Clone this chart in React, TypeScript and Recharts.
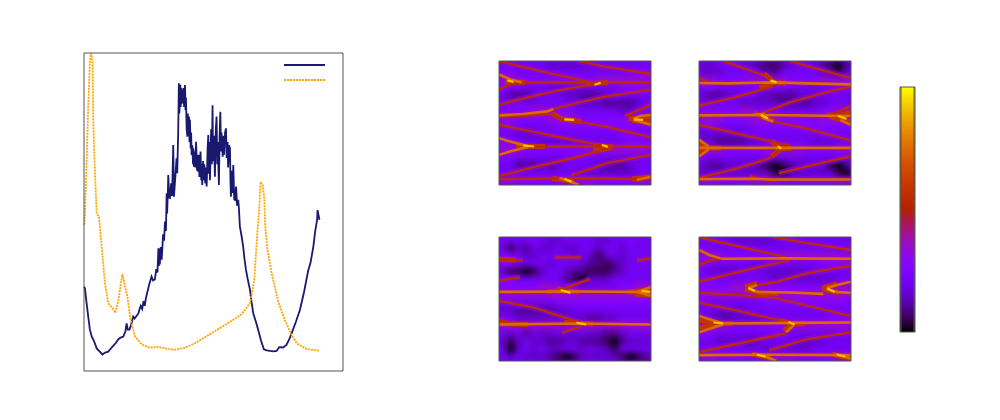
import React from 'react';
import { ComposedChart, Line, Scatter, Bar, XAxis, YAxis, Legend } from 'recharts';

// left panel: [x, y]
const navyPoints = [
  [0, 2.65], [0.04, 2.6], [0.1, 2.2], [0.18, 1.71], [0.25, 1.3], [0.33, 1.08], [0.42, 0.95], [0.54, 0.71], [0.66, 0.62], [0.78, 0.52],
  [0.9, 0.58], [1.03, 0.61], [1.13, 0.7], [1.24, 0.79], [1.35, 0.88], [1.46, 1.0], [1.56, 1.05], [1.67, 1.08], [1.76, 1.25], [1.81, 1.5],
  [1.86, 1.3], [1.93, 1.3], [2.0, 1.45], [2.09, 1.71], [2.15, 1.65], [2.31, 1.81], [2.36, 1.95], [2.41, 2.05], [2.47, 1.95], [2.53, 2.2],
  [2.58, 2.05], [2.63, 2.29], [2.68, 2.45], [2.73, 2.6], [2.78, 2.75], [2.87, 2.97], [2.93, 2.85], [3.01, 2.88], [3.07, 3.2], [3.12, 3.1],
  [3.16, 3.86], [3.18, 3.3], [3.2, 3.85], [3.22, 3.35], [3.26, 3.9], [3.3, 3.5], [3.36, 4.3], [3.4, 4.1], [3.44, 4.7], [3.48, 4.4],
  [3.51, 5.59], [3.53, 4.95], [3.56, 5.6], [3.58, 6.16], [3.62, 5.45], [3.65, 5.44], [3.7, 5.9], [3.74, 5.5], [3.79, 7.11], [3.82, 5.48],
  [3.88, 6.1], [3.93, 6.69], [3.96, 6.22], [4.0, 7.5], [4.03, 9.05], [4.05, 8.1], [4.09, 9.0], [4.11, 8.3], [4.12, 8.9], [4.14, 8.4],
  [4.17, 8.84], [4.2, 8.42], [4.22, 8.9], [4.25, 8.3], [4.29, 8.99], [4.31, 8.2], [4.33, 8.6], [4.36, 7.6], [4.39, 7.37], [4.41, 8.1],
  [4.43, 7.4], [4.46, 8.0], [4.48, 7.2], [4.5, 7.9], [4.53, 7.0], [4.55, 7.5], [4.57, 6.79], [4.6, 7.1], [4.63, 6.5], [4.65, 7.0],
  [4.67, 6.42], [4.7, 6.9], [4.73, 6.4], [4.76, 7.21], [4.8, 6.3], [4.83, 6.8], [4.85, 6.27], [4.88, 6.8], [4.9, 6.1], [4.95, 6.9],
  [4.98, 6.0], [5.0, 6.5], [5.02, 5.85], [5.06, 6.6], [5.08, 6.0], [5.11, 6.5], [5.15, 5.9], [5.18, 6.4], [5.21, 5.8], [5.25, 7.0],
  [5.28, 7.42], [5.3, 6.2], [5.32, 7.2], [5.35, 6.0], [5.4, 7.6], [5.43, 6.5], [5.46, 8.36], [5.48, 6.6], [5.52, 7.4], [5.56, 6.11],
  [5.6, 7.6], [5.63, 8.0], [5.66, 6.5], [5.68, 7.2], [5.73, 5.85], [5.76, 7.4], [5.79, 8.15], [5.82, 6.9], [5.84, 7.5], [5.89, 6.74],
  [5.92, 7.4], [5.95, 6.8], [5.99, 7.5], [6.03, 7.63], [6.06, 6.7], [6.1, 7.2], [6.12, 6.4], [6.16, 7.1], [6.2, 7.0], [6.22, 6.0],
  [6.24, 5.48], [6.28, 6.3], [6.31, 5.6], [6.34, 6.48], [6.38, 5.4], [6.41, 5.38], [6.46, 5.8], [6.5, 5.2], [6.55, 5.38], [6.58, 5.11],
  [6.62, 4.54], [6.68, 4.3], [6.76, 3.91], [6.82, 3.5], [6.88, 3.18], [6.95, 2.9], [7.05, 2.55], [7.12, 2.15], [7.19, 1.81], [7.3, 1.55],
  [7.4, 1.29], [7.52, 0.95], [7.64, 0.68], [7.76, 0.65], [7.9, 0.63], [8.05, 0.62], [8.18, 0.63], [8.29, 0.75], [8.45, 0.74], [8.6, 0.82],
  [8.72, 1.0], [8.82, 1.19], [9.0, 1.55], [9.17, 1.92], [9.35, 2.5], [9.52, 3.15], [9.62, 3.4], [9.74, 3.91], [9.82, 4.4], [9.9, 4.75],
  [9.92, 5.06], [10, 4.75],
];
const orangePoints = [
  [0.01, 4.6], [0.04, 4.9], [0.11, 6.54], [0.18, 8.31], [0.25, 9.69], [0.3, 10.04], [0.37, 9.67], [0.39, 8.0], [0.44, 6.74], [0.5, 5.6],
  [0.54, 4.97], [0.64, 4.81], [0.68, 4.5], [0.75, 3.91], [0.89, 2.76], [1.03, 2.13], [1.22, 1.97], [1.33, 1.83], [1.46, 2.23], [1.63, 3.05],
  [1.84, 2.34], [1.98, 1.6], [2.17, 1.08], [2.45, 0.84], [2.8, 0.73], [3.16, 0.76], [3.51, 0.7], [3.86, 0.67], [4.29, 0.73], [4.78, 0.9],
  [5.35, 1.16], [6.06, 1.48], [6.69, 1.78], [7.05, 2.13], [7.23, 2.86], [7.36, 4.33], [7.44, 5.06], [7.5, 5.95], [7.59, 5.85], [7.66, 5.38],
  [7.69, 4.64], [7.78, 3.86], [7.97, 3.07], [8.25, 2.18], [8.53, 1.6], [8.82, 1.13], [9.03, 0.87], [9.46, 0.69], [10, 0.64],
];
const lineXTicks = [1, 2, 3, 4, 5, 6, 7, 8, 9, 10];
const lineYTicks = [1, 2, 3, 4, 5, 6, 7, 8, 9];

// heat maps: rows from the top, one digit per coarse cell (index into heatColors)
const heatColors = ['#000000', '#39004f', '#510096', '#6301ce', '#7202f2', '#8004ff', '#970bce', '#ab174f', '#b42000'];
const heatA = [
  '4444443333334444444', '5544444444444444455', '6665555555556666666', '5544443333444445556',
  '4222344433222344444', '4454444444333222234', '5555666554444443344', '6655556666555555666',
  '5544444555555555555', '4433344444444445544', '5544433334444444555', '6665555555566666666',
  '5544444445544444444', '4422232344443222344', '4444444444333333344', '6655555566665555566',
];
const heatB = [
  '3344433211234432102', '3334444332444443213', '6655556666655556666', '5544444445544444445',
  '3223344332223334444', '4444433333222233444', '5555566555444445566', '6665556666555556666',
  '5544444555555555555', '3333334444444445544', '3322223344444433344', '6665555566666555566',
  '5444444455444444444', '3223333210123333102', '3333333331023333310', '6655556666555555566',
];
const heatC = [
  '4444543344443344544', '4132433433443443444', '5543344443431343444', '5544443444322123444',
  '3110134432211123444', '5544444421033344444', '5555566555444445566', '6666666666666666666',
  '4444444555555555555', '3322222334444444444', '4433333333322334444', '6666666666666666666',
  '4342433433433223444', '3134332233222102333', '4034343344343314444', '4343332101333331012',
];
const heatD = [
  '4444333333444444444', '5444444444444444444', '6665555555666666666', '5544443344444445556',
  '4333344433333344444', '5544444443333333344', '5555666555555555666', '6666666666666666666',
  '5444444455555555555', '4433334444444444444', '4332333344444444555', '6666555555566666666',
  '5544444445544444444', '4433332344443333444', '4444444433333344444', '6655555566665555566',
];

// ridges in each map: level then [x, y] points (f = wide flare round a cusp)
const ridgeColors = { f: '#c23400', r: '#bd2c00', o: '#dc6a00', y: '#f5c400' };
const ridgeWidths = { f: 5, r: 2.1, o: 2.6, y: 2.2 };
const ridgeOrder = ['f', 'r', 'o', 'y'];
const ridgesA: [string, number[][]][] = [
  ['f', [[0.25, 5.22], [1.1, 5.2]]], ['f', [[3.6, 5.12], [4.5, 5.2]]], ['f', [[2.2, 3.62], [2.6, 3.35], [3.4, 3.22]]],
  ['f', [[5.35, 3.35], [5.9, 3.42], [6.28, 3.45]]], ['f', [[5.5, 3.28], [6.28, 3.15]]], ['f', [[0.7, 1.95], [1.9, 1.95]]],
  ['f', [[3.9, 2.02], [4.7, 1.93]]], ['f', [[3.9, 1.72], [4.6, 1.88]]], ['f', [[2.2, 0.34], [3.1, 0.18]]], ['f', [[5.5, 0.3], [6.28, 0.42]]],
  ['r', [[0, 6.28], [1.42, 5.85], [2.8, 5.47], [3.76, 5.22], [4.04, 5.17]]],
  ['r', [[3.28, 6.28], [4.45, 5.98], [6.28, 5.63]]],
  ['o', [[0, 5.6], [0.45, 5.36], [0.94, 5.2]]],
  ['r', [[0, 4.83], [0.45, 5.1], [0.94, 5.2]]],
  ['r', [[0.94, 5.2], [3.0, 5.2], [6.28, 5.2]]],
  ['r', [[0, 4.07], [1.28, 4.47], [2.53, 4.81], [3.76, 5.08], [4.04, 5.17]]],
  ['o', [[0, 3.53], [1.0, 3.6], [2.0, 3.73], [2.25, 3.85]]],
  ['r', [[2.25, 3.85], [3.2, 4.15], [4.45, 4.5], [6.28, 4.83]]],
  ['r', [[0, 3.48], [1.0, 3.5], [2.2, 3.6], [2.6, 3.3]]],
  ['r', [[2.6, 3.3], [3.0, 3.28], [4.45, 2.95], [6.28, 2.42]]],
  ['r', [[0, 3.05], [1.42, 2.7], [3.0, 2.3], [4.45, 1.95]]],
  ['o', [[5.55, 3.35], [5.83, 3.5], [6.28, 3.55]]],
  ['o', [[5.55, 3.3], [5.83, 3.2], [6.28, 3.05]]],
  ['r', [[5.2, 3.5], [5.7, 3.75], [6.28, 4.07]]],
  ['o', [[0, 2.37], [0.45, 2.2], [1.2, 1.97]]],
  ['o', [[0, 1.53], [0.45, 1.7], [1.2, 1.93]]],
  ['r', [[1.2, 1.95], [4.45, 1.95], [6.28, 1.95]]],
  ['r', [[0, 0.45], [1.42, 0.9], [3.0, 1.35], [4.2, 1.75], [4.5, 1.9]]],
  ['r', [[3.0, 0.5], [4.45, 1.1], [6.28, 1.53]]],
  ['r', [[0, 0.29], [3.0, 0.34], [6.28, 0.3]]],
  ['o', [[2.5, 0.35], [2.9, 0.2], [3.3, 0]]],
  ['o', [[5.7, 0.25], [6.28, 0.42]]],
  ['y', [[0.35, 5.3], [0.6, 5.22]]],
  ['y', [[3.95, 5.08], [4.2, 5.18]]],
  ['y', [[2.7, 3.33], [3.1, 3.3]]],
  ['y', [[5.6, 3.33], [5.95, 3.3]]],
  ['y', [[1.0, 2.0], [1.45, 1.95]]],
  ['y', [[4.25, 2.03], [4.5, 1.93]]],
  ['y', [[2.7, 0.32], [3.0, 0.17]]],
];
const ridgesB: [string, number[][]][] = [
  ['f', [[2.7, 5.65], [3.1, 5.2], [3.6, 5.15]]], ['f', [[2.5, 4.95], [3.1, 5.2]]], ['f', [[2.3, 3.65], [2.7, 3.4], [3.1, 3.25]]],
  ['f', [[5.3, 3.55], [5.9, 3.55], [6.28, 3.7]]], ['f', [[5.4, 3.45], [6.28, 3.2]]], ['f', [[0, 2.1], [0.4, 1.88], [0.9, 1.88]]],
  ['f', [[0, 1.65], [0.4, 1.88]]], ['f', [[3.0, 2.2], [3.4, 1.85], [3.8, 1.85]]], ['f', [[3.0, 1.45], [3.4, 1.85]]],
  ['r', [[1.0, 6.28], [2.8, 5.51], [3.07, 5.22]]],
  ['r', [[3.76, 6.28], [5.0, 5.85], [6.28, 5.42]]],
  ['r', [[0, 5.42], [0.4, 5.2]]],
  ['o', [[0, 5.17], [1.2, 5.15], [3.07, 5.2], [4.5, 5.15], [6.28, 5.1]]],
  ['r', [[0, 4.02], [1.5, 4.45], [3.07, 5.0]]],
  ['r', [[2.59, 3.64], [3.8, 4.2], [5.14, 4.66], [6.28, 5.0]]],
  ['o', [[0, 3.53], [2.6, 3.55], [6.28, 3.5]]],
  ['o', [[2.2, 3.55], [2.66, 3.6], [2.66, 3.4], [3.07, 3.22]]],
  ['r', [[3.07, 3.22], [4.5, 2.85], [6.28, 2.25]]],
  ['r', [[5.4, 3.55], [5.83, 3.75], [6.28, 4.0]]],
  ['o', [[5.83, 3.3], [6.28, 3.05]]],
  ['r', [[0, 3.05], [1.8, 2.55], [3.35, 2.1], [3.76, 2.03]]],
  ['o', [[0, 1.88], [3.35, 1.88], [6.28, 1.88]]],
  ['o', [[0, 2.3], [0.4, 1.95]]],
  ['o', [[0, 1.45], [0.4, 1.8]]],
  ['r', [[0, 0.35], [1.6, 0.85], [2.9, 1.35], [3.35, 1.8]]],
  ['r', [[3.3, 0.6], [5, 1.1], [6.28, 1.45]]],
  ['o', [[0, 0.3], [2.2, 0.32], [3, 0.28], [6.28, 0.28]]],
  ['r', [[2.1, 0.45], [2.6, 0.3], [3.2, 0.2]]],
  ['y', [[2.95, 5.3], [3.2, 5.2]]],
  ['y', [[2.55, 3.55], [2.85, 3.38]]],
  ['y', [[5.75, 3.5], [6.1, 3.35]]],
  ['y', [[3.25, 1.95], [3.4, 1.85]]],
];
const ridgesC: [string, number[][]][] = [
  ['f', [[0, 5.15], [0.7, 5.12]]], ['f', [[2.0, 3.52], [2.8, 3.55], [3.3, 3.5]]], ['f', [[5.3, 3.5], [6.28, 3.6]]],
  ['f', [[5.6, 3.4], [6.28, 3.35]]], ['f', [[2.7, 1.95], [3.9, 1.87]]], ['f', [[0, 1.9], [1.2, 1.85]]], ['f', [[2.4, 3.7], [2.8, 3.5]]],
  ['r', [[0, 5.15], [1, 5.1]]],
  ['r', [[2.3, 5.25], [3.4, 5.25]]],
  ['r', [[5.7, 5.1], [6.28, 5.2]]],
  ['r', [[2.59, 3.64], [3.2, 3.9], [3.76, 4.15]]],
  ['r', [[0, 4.07], [0.87, 4.24]]],
  ['o', [[0, 3.5], [3, 3.52], [6.28, 3.5]]],
  ['r', [[0, 3.05], [1.42, 2.71], [3.35, 1.95]]],
  ['o', [[0, 1.85], [3.35, 1.9], [6.28, 1.85]]],
  ['r', [[0, 2.1], [0.6, 1.9]]],
  ['r', [[2.6, 1.45], [3.4, 1.75]]],
  ['o', [[5.7, 3.5], [6.28, 3.75]]],
  ['o', [[5.7, 3.5], [6.28, 3.3]]],
  ['y', [[2.55, 3.6], [2.95, 3.45]]],
  ['y', [[5.9, 3.55], [6.25, 3.5]]],
  ['y', [[3.2, 1.95], [3.6, 1.85]]],
];
const ridgesD: [string, number[][]][] = [
  ['f', [[1.9, 3.75], [2.4, 3.95]]], ['f', [[1.9, 3.65], [2.5, 3.45], [3.3, 3.42]]], ['f', [[5.1, 3.7], [5.7, 3.9]]],
  ['f', [[5.1, 3.65], [5.8, 3.45]]], ['f', [[0, 2.05], [0.9, 1.9], [1.4, 1.9]]], ['f', [[0, 1.7], [0.9, 1.88]]],
  ['f', [[3.3, 2.05], [3.9, 1.88], [4.4, 1.9]]], ['f', [[3.5, 1.55], [3.9, 1.85]]], ['f', [[2.2, 0.35], [3.0, 0.15]]], ['f', [[5.5, 0.35], [6.28, 0.1]]],
  ['r', [[0, 6.28], [1.42, 5.87], [2.8, 5.48], [3.6, 5.25]]],
  ['r', [[3.07, 6.28], [4.45, 5.98], [6.28, 5.63]]],
  ['o', [[0, 5.63], [0.45, 5.36], [0.9, 5.2]]],
  ['r', [[0, 4.85], [0.45, 5.1], [0.9, 5.2]]],
  ['o', [[0.9, 5.18], [3.5, 5.2], [6.28, 5.18]]],
  ['r', [[0, 4.02], [1.42, 4.45], [2.8, 4.85], [3.76, 5.1]]],
  ['o', [[2.04, 3.7], [2.4, 3.85]]],
  ['r', [[2.4, 3.85], [3.2, 4.0], [4.45, 4.45], [6.28, 4.83]]],
  ['o', [[2.04, 3.7], [2.4, 3.5], [3.76, 3.47], [5.14, 3.4]]],
  ['o', [[5.28, 3.7], [5.7, 3.85], [6.28, 4.02]]],
  ['o', [[5.28, 3.65], [5.7, 3.5], [6.28, 3.45]]],
  ['r', [[0, 3.47], [3.07, 3.22], [6.28, 2.28]]],
  ['r', [[0, 2.95], [1.42, 2.6], [3.76, 1.95], [4.4, 1.85]]],
  ['o', [[0, 2.28], [0.6, 2.05], [1, 1.9]]],
  ['o', [[0, 1.45], [0.6, 1.7], [1, 1.85]]],
  ['o', [[1, 1.9], [3.9, 1.93], [6.28, 1.95]]],
  ['o', [[3.9, 1.8], [3.6, 1.45]]],
  ['r', [[0, 0.45], [1.42, 0.83], [3.6, 1.4]]],
  ['r', [[2.9, 0.55], [4.45, 1.1], [6.28, 1.45]]],
  ['o', [[0, 0.3], [3, 0.32], [6.28, 0.3]]],
  ['o', [[2.2, 0.35], [2.7, 0.25], [3.2, 0]]],
  ['o', [[5.6, 0.35], [6.1, 0.2], [6.28, 0.1]]],
  ['y', [[2.04, 3.7], [2.3, 3.55]]],
  ['y', [[5.3, 3.68], [5.6, 3.5]]],
  ['y', [[3.7, 1.98], [3.95, 1.85]]],
  ['y', [[0.6, 1.95], [1.0, 1.9]]],
  ['y', [[2.4, 0.32], [2.75, 0.22]]],
  ['y', [[5.7, 0.32], [6.05, 0.22]]],
];
const heatTicks = [1, 2, 3, 4, 5, 6];

// colour bar
const barColorStops = [
  '#000000', '#39004f', '#510096', '#6301ce', '#7202f2', '#8004ff', '#8c07f2', '#970bce', '#a11096', '#ab174f',
  '#b42000', '#bd2c00', '#c63700', '#ce4600', '#d55700', '#dd6c00', '#e48200', '#eb9d00', '#f2ba00', '#f9db00', '#ffff00',
];
const barMajorTicks = [1, 2, 3, 4];
const barMinorTicks = [0.3, 0.7, 0.9, 1.3, 1.7, 1.9, 2.3, 2.7, 2.9, 3.3, 3.7, 3.9, 4.3, 4.7, 4.9];

const FRAME = '#555';
const PAD = 6;
const TAU = 6.283;

// tick marks only, the reference has no tick text
const NoLabel = () => <g />;

const boxAxes = (xTicks: number[], yTicks: number[], xMax: number, yMax: number, tickSize: number) => [
  <XAxis key="xb" xAxisId="xb" type="number" orientation="bottom" mirror domain={[0, xMax]} ticks={xTicks} tick={NoLabel} tickSize={tickSize} stroke={FRAME} tickLine={{ stroke: '#000' }} height={1} />,
  <XAxis key="xt" xAxisId="xt" type="number" orientation="top" mirror domain={[0, xMax]} ticks={xTicks} tick={NoLabel} tickSize={tickSize} stroke={FRAME} tickLine={{ stroke: '#000' }} height={1} />,
  <YAxis key="yl" yAxisId="yl" type="number" orientation="left" mirror domain={[0, yMax]} ticks={yTicks} tick={NoLabel} tickSize={tickSize} stroke={FRAME} tickLine={{ stroke: '#000' }} width={1} />,
  <YAxis key="yr" yAxisId="yr" type="number" orientation="right" mirror domain={[0, yMax]} ticks={yTicks} tick={NoLabel} tickSize={tickSize} stroke={FRAME} tickLine={{ stroke: '#000' }} width={1} />,
];

const margin = { top: PAD, right: PAD, bottom: PAD, left: PAD };
const at = (left: number, top: number, w: number, h: number): React.CSSProperties => ({
  position: 'absolute', left, top, width: w, height: h,
});

const HeatMap = ({ left, top, rows, ridges, xTicks }: { left: number; top: number; rows: string[]; ridges: [string, number[][]][]; xTicks: boolean }) => {
  const W = 152;
  const H = 124;
  const cellW = W / rows[0].length;
  const cellH = H / rows.length;
  const cells = rows.flatMap((row, r) =>
    row.split('').map((d, c) => ({
      x: ((c + 0.5) / row.length) * TAU,
      y: TAU - ((r + 0.5) / rows.length) * TAU,
      level: Number(d),
    })),
  );
  const Cell = (p: any) => (
    <rect x={p.cx - cellW / 2 - 0.5} y={p.cy - cellH / 2 - 0.5} width={cellW + 1} height={cellH + 1} fill={heatColors[p.payload.level]} />
  );
  const toRows = (pts: number[][]) => pts.map(([x, y]) => ({ x, y }));
  const sorted = ridgeOrder.flatMap((lvl) => ridges.filter((r) => r[0] === lvl));
  const thin = ridges.filter((r) => r[0] !== 'f' && r[0] !== 'y');
  return (
    <>
      <div style={{ ...at(left, top, W, H), overflow: 'hidden', background: '#7202f2' }}>
        <div style={{ filter: 'blur(3px)' }}>
          <ComposedChart width={W} height={H} margin={{ top: 0, right: 0, bottom: 0, left: 0 }}>
            <XAxis dataKey="x" type="number" domain={[0, TAU]} hide />
            <YAxis dataKey="y" type="number" domain={[0, TAU]} hide />
            <Scatter data={cells} dataKey="y" shape={Cell} isAnimationActive={false} />
          </ComposedChart>
        </div>
      </div>
      <div style={{ ...at(left, top, W, H), overflow: 'hidden', filter: 'blur(0.5px)' }}>
        <ComposedChart width={W} height={H} margin={{ top: 0, right: 0, bottom: 0, left: 0 }}>
          <XAxis dataKey="x" type="number" domain={[0, TAU]} hide />
          <YAxis dataKey="y" type="number" domain={[0, TAU]} hide />
          {thin.map(([, pts], i) => (
            <Line key={`h${i}`} data={toRows(pts)} dataKey="y" stroke="#970bce" strokeOpacity={0.55} strokeWidth={6} dot={false} activeDot={false} legendType="none" isAnimationActive={false} />
          ))}
          {sorted.map(([lvl, pts], i) => (
            <Line key={`l${i}`} data={toRows(pts)} dataKey="y" stroke={ridgeColors[lvl as 'r']} strokeWidth={ridgeWidths[lvl as 'r']} dot={false} activeDot={false} legendType="none" isAnimationActive={false} />
          ))}
        </ComposedChart>
      </div>
      <div style={at(left - PAD, top - PAD, W + PAD * 2, H + PAD * 2)}>
        <ComposedChart width={W + PAD * 2} height={H + PAD * 2} margin={margin}>
          {boxAxes(xTicks ? heatTicks : [], heatTicks, TAU, TAU, 4)}
        </ComposedChart>
      </div>
    </>
  );
};

const legendContent = (props: any) => (
  <svg width={42} height={24} style={{ display: 'block' }}>
    {(props.payload || []).map((e: any, i: number) => (
      <line key={i} x1={0} x2={41} y1={4 + i * 15} y2={4 + i * 15} stroke={e.color} strokeWidth={e.payload.strokeWidth} strokeDasharray={e.payload.strokeDasharray} />
    ))}
  </svg>
);

const App = () => {
  const navy = navyPoints.map(([x, y]) => ({ x, y }));
  const orange = orangePoints.map(([x, y]) => ({ x, y }));
  return (
    <div style={at(0, 0, 1000, 420)}>
      <div style={at(84 - PAD, 53 - PAD, 259 + PAD * 2, 318 + PAD * 2)}>
        <ComposedChart width={259 + PAD * 2} height={318 + PAD * 2} margin={margin}>
          <XAxis dataKey="x" type="number" domain={[0, 11]} hide />
          <YAxis dataKey="y" type="number" domain={[0, 10]} allowDataOverflow hide />
          {boxAxes(lineXTicks, lineYTicks, 11, 10, 4)}
          <Line data={navy} dataKey="y" name="a" stroke="#191970" strokeWidth={1.8} dot={false} activeDot={false} isAnimationActive={false} />
          <Line data={orange} dataKey="y" name="b" stroke="#ffa500" strokeWidth={1.8} strokeDasharray="2 1" dot={false} activeDot={false} isAnimationActive={false} />
          <Legend layout="horizontal" verticalAlign="middle" content={legendContent} wrapperStyle={{ left: 206, top: 14, width: 42, height: 24 }} />
        </ComposedChart>
      </div>

      <HeatMap left={499} top={61} rows={heatA} ridges={ridgesA} xTicks={false} />
      <HeatMap left={699} top={61} rows={heatB} ridges={ridgesB} xTicks={false} />
      <HeatMap left={499} top={237} rows={heatC} ridges={ridgesC} xTicks />
      <HeatMap left={699} top={237} rows={heatD} ridges={ridgesD} xTicks />

      <div style={at(900 - PAD, 87 - PAD, 15 + PAD * 2, 245 + PAD * 2)}>
        <ComposedChart width={15 + PAD * 2} height={245 + PAD * 2} margin={margin} data={[{ c: 'z', top: 5 }]} barCategoryGap={0}>
          <defs>
            <linearGradient id="barFill" x1="0" y1="1" x2="0" y2="0">
              {barColorStops.map((c, i) => (
                <stop key={c} offset={i / (barColorStops.length - 1)} stopColor={c} />
              ))}
            </linearGradient>
          </defs>
          <XAxis dataKey="c" type="category" hide />
          <YAxis type="number" domain={[0, 5]} hide />
          <Bar dataKey="top" fill="url(#barFill)" isAnimationActive={false} />
          {boxAxes([], barMinorTicks, 1, 5, 2.5)}
          <YAxis yAxisId="ml" type="number" orientation="left" mirror domain={[0, 5]} ticks={barMajorTicks} tick={NoLabel} tickSize={5} stroke={FRAME} tickLine={{ stroke: '#000' }} width={1} />
          <YAxis yAxisId="mr" type="number" orientation="right" mirror domain={[0, 5]} ticks={barMajorTicks} tick={NoLabel} tickSize={5} stroke={FRAME} tickLine={{ stroke: '#000' }} width={1} />
        </ComposedChart>
      </div>
    </div>
  );
};

export default App;
